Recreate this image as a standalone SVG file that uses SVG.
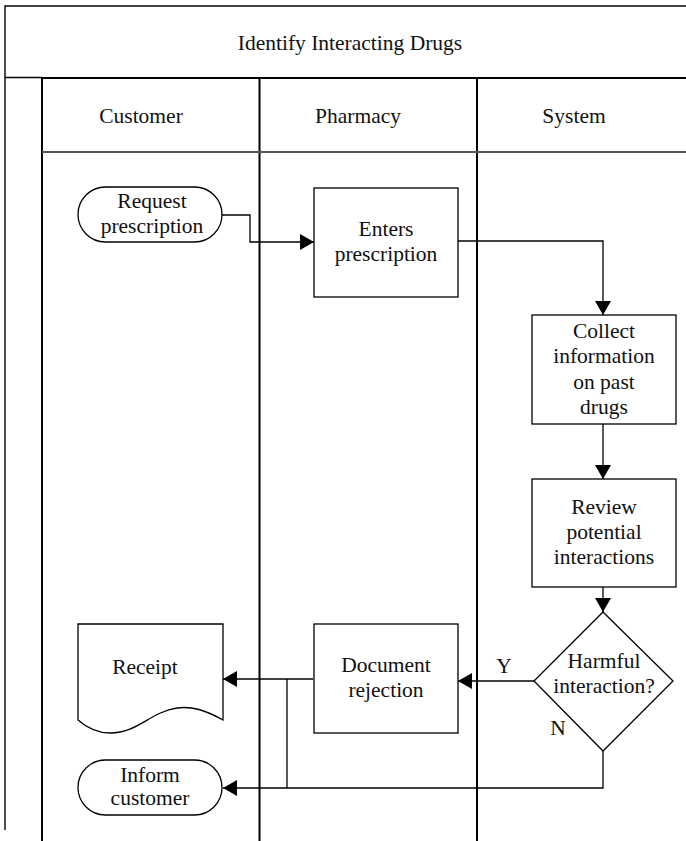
<svg xmlns="http://www.w3.org/2000/svg" width="686" height="841" viewBox="0 0 686 841">
  <style>
    .frame { fill: none; stroke: #000; stroke-width: 1.4; }
    .lane { fill: none; stroke: #000; stroke-width: 2; }
    .hdr { fill: none; stroke: #555; stroke-width: 2; }
    .node { fill: #fff; stroke: #000; stroke-width: 1.3; }
    .edge { fill: none; stroke: #000; stroke-width: 1.3; }
    text { font-family: "Liberation Serif", "Times New Roman", serif; font-size: 21.5px; fill: #111; text-anchor: middle; }
  </style>
  <defs>
    <marker id="arrow" viewBox="0 0 14 16" refX="14" refY="8" markerWidth="14" markerHeight="16" markerUnits="userSpaceOnUse" orient="auto">
      <path d="M0,0 L14,8 L0,16 Z" fill="#000"/>
    </marker>
  </defs>

  <!-- pool frame and swimlanes -->
  <g id="pool">
    <path class="frame" d="M686,6 H5 V830"/>
    <line class="frame" x1="5" y1="77.5" x2="42" y2="77.5"/>
    <line class="lane" x1="42" y1="78" x2="686" y2="78"/>
    <line class="lane" x1="42" y1="77" x2="42" y2="841"/>
    <line class="lane" x1="259.5" y1="77" x2="259.5" y2="841"/>
    <line class="lane" x1="477" y1="77" x2="477" y2="841"/>
    <line class="hdr" x1="42" y1="152" x2="686" y2="152"/>
    <text x="350" y="50">Identify Interacting Drugs</text>
    <text x="141" y="123">Customer</text>
    <text x="358" y="123">Pharmacy</text>
    <text x="574" y="123">System</text>
  </g>

  <!-- connectors -->
  <g id="connectors">
    <path class="edge" d="M222,215 H250 V242 H314" marker-end="url(#arrow)"/>
    <path class="edge" d="M458,241 H603 V315" marker-end="url(#arrow)"/>
    <path class="edge" d="M603,424 V479" marker-end="url(#arrow)"/>
    <path class="edge" d="M603,587 V612" marker-end="url(#arrow)"/>
    <path class="edge" d="M534,681 H458" marker-end="url(#arrow)"/>
    <path class="edge" d="M313,679 H223" marker-end="url(#arrow)"/>
    <path class="edge" d="M287,679 V788"/>
    <path class="edge" d="M603,751 V788 H223" marker-end="url(#arrow)"/>
    <text x="504" y="673">Y</text>
    <text x="558" y="735">N</text>
  </g>

  <g id="request-prescription">
    <rect class="node" x="78" y="187" width="144" height="55" rx="27.5" ry="27.5"/>
    <text x="152" y="208">Request</text>
    <text x="152" y="233">prescription</text>
  </g>

  <g id="enters-prescription">
    <rect class="node" x="314" y="188" width="144" height="109"/>
    <text x="386" y="236">Enters</text>
    <text x="386" y="261">prescription</text>
  </g>

  <g id="collect-information">
    <rect class="node" x="532" y="315" width="144" height="109"/>
    <text x="604" y="338">Collect</text>
    <text x="604" y="363">information</text>
    <text x="604" y="389">on past</text>
    <text x="604" y="414">drugs</text>
  </g>

  <g id="review-interactions">
    <rect class="node" x="532" y="479" width="144" height="108"/>
    <text x="604" y="514">Review</text>
    <text x="604" y="539">potential</text>
    <text x="604" y="564">interactions</text>
  </g>

  <g id="harmful-decision">
    <polygon class="node" points="603,612 673,681 603,751 534,681"/>
    <text x="604" y="668">Harmful</text>
    <text x="604" y="693">interaction?</text>
  </g>

  <g id="document-rejection">
    <rect class="node" x="314" y="624" width="144" height="109"/>
    <text x="386" y="672">Document</text>
    <text x="386" y="697">rejection</text>
  </g>

  <g id="receipt">
    <path class="node" d="M78,624 H223 V720 C205,710 192,706 177,708 C150,712 138,733 110,733 C96,733 86,727 78,720 Z"/>
    <text x="145" y="674">Receipt</text>
  </g>

  <g id="inform-customer">
    <rect class="node" x="78" y="760" width="144" height="55" rx="27.5" ry="27.5"/>
    <text x="150" y="782">Inform</text>
    <text x="150" y="805">customer</text>
  </g>
</svg>
